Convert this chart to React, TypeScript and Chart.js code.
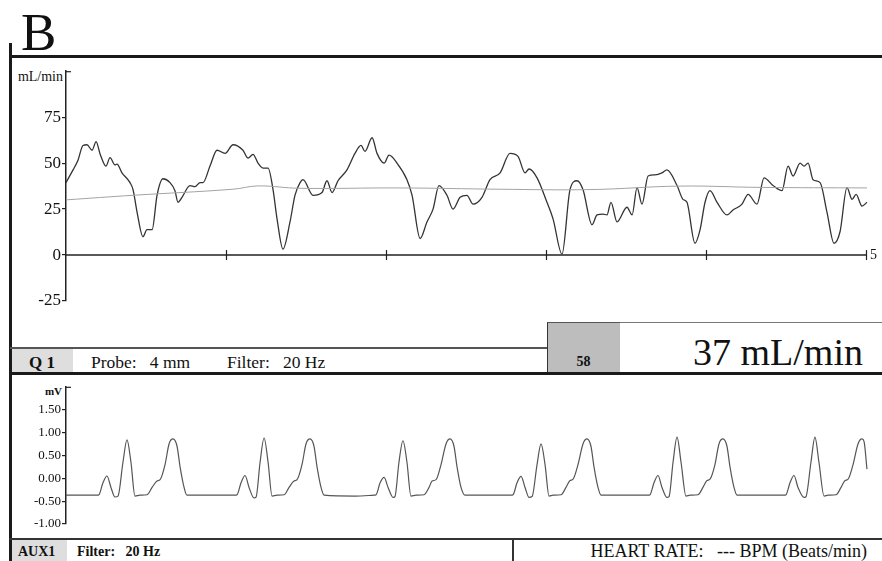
import React, { useEffect, useRef } from "react";
import { Chart, registerables } from "chart.js";
Chart.register(...registerables);

const FONT = "'Liberation Serif', 'Times New Roman', serif";

// ---- Flow trace (mL/min) over time (s) ----
const flowTime = [
  0, 0.044, 0.075, 0.106, 0.131, 0.163, 0.188, 0.213, 0.25, 0.275, 0.306, 0.319, 0.35, 0.4, 0.419, 0.444,
  0.481, 0.506, 0.538, 0.569, 0.606, 0.65, 0.681, 0.7, 0.725, 0.775, 0.806, 0.838, 0.856, 0.9, 0.944, 0.994,
  1.044, 1.106, 1.138, 1.169, 1.2, 1.231, 1.263, 1.294, 1.319, 1.356, 1.4, 1.431, 1.463, 1.481, 1.544, 1.6,
  1.631, 1.663, 1.7, 1.756, 1.806, 1.844, 1.869, 1.913, 1.944, 1.988, 2.019, 2.069, 2.131, 2.163, 2.213, 2.256,
  2.294, 2.331, 2.381, 2.419, 2.463, 2.506, 2.544, 2.6, 2.65, 2.713, 2.775, 2.825, 2.869, 2.894, 2.944, 3.006,
  3.044, 3.1, 3.15, 3.194, 3.231, 3.288, 3.319, 3.356, 3.381, 3.406, 3.444, 3.506, 3.538, 3.569, 3.6, 3.638,
  3.681, 3.725, 3.756, 3.819, 3.856, 3.881, 3.931, 3.963, 3.994, 4.025, 4.069, 4.131, 4.169, 4.225, 4.263, 4.319,
  4.363, 4.419, 4.475, 4.513, 4.544, 4.588, 4.613, 4.638, 4.669, 4.713, 4.756, 4.8, 4.838, 4.881, 4.913, 4.938,
  4.975, 5.006,
];
const flowValue = [
  39.4, 46.3, 51.6, 59.6, 60, 57, 61.7, 55, 48.4, 53, 49, 49.5, 44.7, 39.4, 35.6, 23.4,
  10, 13.8, 13.8, 32.5, 41.5, 39.4, 35, 28.7, 31.4, 37.8, 37.2, 39.4, 39.4, 48.4, 57, 55.3,
  60, 57, 52.7, 54.8, 50, 47.3, 47.3, 35.6, 19.7, 3.2, 18, 32.5, 39.4, 41, 32.5, 34,
  40.4, 34, 40.4, 46.3, 55.3, 59.6, 56.4, 63.8, 55.3, 50, 54.3, 50, 41, 32.5, 9, 18,
  25, 37.8, 32.5, 25, 31.4, 32.5, 27.7, 31.4, 41, 44.7, 55.3, 53.7, 44.7, 46.8, 42, 28.7,
  19.7, 0.5, 35.6, 40.4, 35.6, 16.5, 21.8, 22.3, 21.8, 28.7, 18, 26, 21.8, 36.7, 27.7, 43,
  43.6, 44.7, 46.3, 37.8, 30.3, 28.7, 6.4, 13.8, 28.7, 35, 28.7, 21.8, 24.5, 27.7, 33, 27.7,
  42, 37.8, 35, 48.4, 43, 50, 48.4, 50, 41, 39.4, 23.4, 6.4, 12.8, 36.7, 30.3, 33,
  26.6, 28.7,
];

// ---- Mean flow (gray) ----
const meanTime = [0, 0.419, 1.044, 1.2, 1.463, 2.088, 2.713, 3.275, 3.838, 4.338, 5.006];
const meanValue = [30, 32.5, 35.8, 37.6, 36.3, 36.5, 35.8, 35.6, 37.5, 36.8, 36.5];

// ---- AUX1 (mV) ----
const ecgTime = [
  0, 0.194, 0.206, 0.231, 0.256, 0.281, 0.306, 0.325, 0.356, 0.381, 0.406, 0.431, 0.463, 0.506, 0.538, 0.569,
  0.588, 0.619, 0.644, 0.669, 0.694, 0.713, 0.738, 0.756,
  1.056, 1.069, 1.094, 1.119, 1.144, 1.175, 1.188, 1.213, 1.238, 1.263, 1.288, 1.319, 1.363, 1.394, 1.425, 1.444,
  1.475, 1.5, 1.525, 1.55, 1.569, 1.594, 1.613, 1.806,
  1.925, 1.938, 1.963, 1.988, 2.013, 2.044, 2.056, 2.081, 2.106, 2.131, 2.156, 2.188, 2.238, 2.269, 2.288, 2.313,
  2.344, 2.375, 2.4, 2.425, 2.444, 2.469, 2.494,
  2.781, 2.794, 2.819, 2.844, 2.869, 2.894, 2.913, 2.944, 2.969, 2.994, 3.019, 3.044, 3.094, 3.125, 3.15, 3.169,
  3.2, 3.231, 3.256, 3.281, 3.3, 3.325, 3.344,
  3.638, 3.65, 3.675, 3.7, 3.725, 3.756, 3.769, 3.794, 3.819, 3.844, 3.875, 3.9, 3.95, 3.981, 4.006, 4.025,
  4.056, 4.081, 4.106, 4.131, 4.15, 4.175, 4.194,
  4.488, 4.5, 4.525, 4.55, 4.575, 4.613, 4.625, 4.656, 4.681, 4.706, 4.738, 4.763, 4.813, 4.844, 4.869, 4.888,
  4.919, 4.95, 4.975, 4.988, 5.006,
];
const ecgValue = [
  -0.37, -0.37, -0.36, -0.1, 0.05, -0.2, -0.41, -0.39, 0.35, 0.84, 0.35, -0.39, -0.37, -0.36, -0.2, -0.06,
  -0.03, 0.3, 0.75, 0.86, 0.7, 0.25, -0.2, -0.37,
  -0.37, -0.36, -0.1, 0.06, -0.2, -0.43, -0.41, 0.35, 0.88, 0.35, -0.39, -0.37, -0.36, -0.2, -0.06, -0.03,
  0.3, 0.75, 0.86, 0.7, 0.25, -0.2, -0.37, -0.39,
  -0.37, -0.36, -0.1, 0.02, -0.2, -0.42, -0.4, 0.35, 0.82, 0.35, -0.39, -0.37, -0.36, -0.2, -0.06, -0.03,
  0.3, 0.75, 0.86, 0.7, 0.25, -0.2, -0.37,
  -0.37, -0.36, -0.1, 0.04, -0.2, -0.42, -0.4, 0.3, 0.75, 0.3, -0.39, -0.37, -0.36, -0.2, -0.05, -0.02,
  0.3, 0.75, 0.86, 0.7, 0.25, -0.2, -0.37,
  -0.37, -0.36, -0.1, 0.06, -0.2, -0.42, -0.4, 0.35, 0.9, 0.35, -0.39, -0.37, -0.36, -0.2, -0.05, -0.02,
  0.3, 0.75, 0.86, 0.7, 0.25, -0.2, -0.37,
  -0.37, -0.36, -0.1, 0.06, -0.2, -0.42, -0.4, 0.35, 0.9, 0.35, -0.39, -0.37, -0.36, -0.2, -0.05, -0.02,
  0.3, 0.75, 0.86, 0.8, 0.2,
];

// ---- Axes ----
const flowTicks = [-25, 0, 25, 50, 75, 100];
const ecgTicks = [-1, -0.5, 0, 0.5, 1, 1.5, 2];
const timeTicks = [1, 2, 3, 4, 5];
const timeEndLabel = "5";
const timeMax = 5;

const toPoints = (xs: number[], ys: number[]) => xs.map((x, i) => ({ x, y: ys[i] }));

const flowAxisPlugin = {
  id: "flowAxis",
  beforeDatasetsDraw(chart: any) {
    const { ctx, chartArea } = chart;
    const x = chart.scales.x;
    const y = chart.scales.y;
    const y0 = y.getPixelForValue(0);
    ctx.save();
    ctx.strokeStyle = "#222";
    ctx.lineWidth = 1.5;
    ctx.beginPath();
    ctx.moveTo(x.getPixelForValue(0), y0);
    ctx.lineTo(x.getPixelForValue(timeMax), y0);
    ctx.stroke();
    ctx.lineWidth = 1.2;
    for (const t of timeTicks) {
      const px = Math.round(x.getPixelForValue(t)) + 0.5;
      ctx.beginPath();
      ctx.moveTo(px, y0 - 5);
      ctx.lineTo(px, y0 + 5);
      ctx.stroke();
    }
    ctx.beginPath();
    ctx.moveTo(chartArea.left, chartArea.top + 0.5);
    ctx.lineTo(chartArea.left + 5, chartArea.top + 0.5);
    ctx.stroke();
    ctx.fillStyle = "#111";
    ctx.font = `14px ${FONT}`;
    ctx.textBaseline = "middle";
    ctx.textAlign = "left";
    ctx.fillText(timeEndLabel, x.getPixelForValue(timeMax) + 4, y0);
    ctx.restore();
  },
};

const capPlugin = {
  id: "capTop",
  afterDraw(chart: any) {
    const { ctx, chartArea } = chart;
    ctx.save();
    ctx.strokeStyle = "#222";
    ctx.lineWidth = 1.2;
    ctx.beginPath();
    ctx.moveTo(chartArea.left, chartArea.top + 0.5);
    ctx.lineTo(chartArea.left + 5, chartArea.top + 0.5);
    ctx.stroke();
    ctx.restore();
  },
};

function yAxis(min: number, max: number, ticks: number[], fmt: (v: number) => string, size: number) {
  return {
    type: "linear",
    position: "left",
    min,
    max,
    afterFit: (s: any) => {
      s.width = 66;
    },
    afterBuildTicks: (s: any) => {
      s.ticks = ticks.map((v) => ({ value: v }));
    },
    ticks: {
      callback: (v: any) => (v === max ? "" : fmt(Number(v))),
      font: { family: FONT, size },
      color: "#111",
      padding: 1,
    },
    grid: {
      drawOnChartArea: false,
      drawTicks: true,
      tickLength: 4,
      lineWidth: 1.2,
      color: (c: any) => (c.tick && c.tick.value === max ? "rgba(0,0,0,0)" : "#222"),
    },
    border: { display: true, color: "#222", width: 1.5 },
  };
}

function Txt(props: any) {
  const { left, top, size, bold, children, width, align, color } = props;
  return (
    <div
      style={{
        position: "absolute",
        left,
        top,
        width,
        textAlign: align || "left",
        fontFamily: FONT,
        fontSize: size,
        fontWeight: bold ? "bold" : "normal",
        lineHeight: 1,
        whiteSpace: "pre",
        color: color || "#111",
      }}
    >
      {children}
    </div>
  );
}

function Box(props: any) {
  const { left, top, width, height, bg, style } = props;
  return <div style={{ position: "absolute", left, top, width, height, background: bg, ...style }} />;
}

export default function App() {
  const upperRef = useRef<HTMLCanvasElement>(null);
  const lowerRef = useRef<HTMLCanvasElement>(null);

  useEffect(() => {
    const upper = new Chart(upperRef.current as HTMLCanvasElement, {
      type: "line",
      data: {
        datasets: [
          {
            data: toPoints(meanTime, meanValue),
            borderColor: "#a3a3a3",
            borderWidth: 1,
            pointRadius: 0,
            tension: 0.4,
            clip: false,
          },
          {
            data: toPoints(flowTime, flowValue),
            borderColor: "#333",
            borderWidth: 1.3,
            pointRadius: 0,
            cubicInterpolationMode: "monotone",
            clip: false,
          },
        ],
      } as any,
      options: {
        responsive: false,
        maintainAspectRatio: false,
        animation: false,
        events: [],
        layout: { padding: { left: 0, right: 16, top: 6, bottom: 19 } },
        plugins: { legend: { display: false }, tooltip: { enabled: false } },
        scales: {
          x: { type: "linear", min: 0, max: timeMax, display: false },
          y: yAxis(-25, 100, flowTicks, (v) => String(v), 17),
        } as any,
      },
      plugins: [flowAxisPlugin],
    });

    const lower = new Chart(lowerRef.current as HTMLCanvasElement, {
      type: "line",
      data: {
        datasets: [
          {
            data: toPoints(ecgTime, ecgValue),
            borderColor: "#555",
            borderWidth: 1.2,
            pointRadius: 0,
            cubicInterpolationMode: "monotone",
            clip: false,
          },
        ],
      } as any,
      options: {
        responsive: false,
        maintainAspectRatio: false,
        animation: false,
        events: [],
        layout: { padding: { left: 0, right: 16, top: 6, bottom: 12 } },
        plugins: { legend: { display: false }, tooltip: { enabled: false } },
        scales: {
          x: { type: "linear", min: 0, max: timeMax, display: false },
          y: yAxis(-1, 2, ecgTicks, (v) => v.toFixed(2), 13),
        } as any,
      },
      plugins: [capPlugin],
    });

    return () => {
      upper.destroy();
      lower.destroy();
    };
  }, []);

  return (
    <div
      style={{
        position: "absolute",
        left: 0,
        top: 0,
        width: 882,
        height: 561,
        background: "#fff",
        overflow: "hidden",
        fontFamily: FONT,
      }}
    >
      {/* frame lines */}
      <Box left={9} top={43} width={3} height={518} bg="#1a1a1a" />
      <Box left={9} top={55} width={873} height={3} bg="#1a1a1a" />

      {/* info bar */}
      <Box left={12} top={349} width={61} height={24} bg="#dedede" />
      <Box left={10} top={347} width={537} height={2} bg="#555" />
      <Box left={547} top={322} width={73} height={51} bg="#bdbdbd" style={{ borderLeft: "1.5px solid #333", borderTop: "1px solid #555", boxSizing: "border-box" }} />
      <Box left={620} top={322} width={262} height={1} bg="#777" />
      <Box left={9} top={372} width={873} height={3} bg="#1a1a1a" />

      {/* bottom bar */}
      <Box left={12} top={540} width={55} height={21} bg="#dedede" />
      <Box left={9} top={538} width={873} height={2} bg="#333" />
      <Box left={512} top={539} width={1.5} height={22} bg="#333" />

      <Txt left={21} top={6} size={53}>B</Txt>
      <Txt left={0} top={70} size={14} width={63} align="right">mL/min</Txt>
      <Txt left={0} top={386} size={11} width={62} align="right" bold>mV</Txt>

      <Txt left={29} top={354} size={17} bold>Q 1</Txt>
      <Txt left={91} top={354} size={17.5}>{"Probe:   4 mm"}</Txt>
      <Txt left={227} top={354} size={17.5}>{"Filter:   20 Hz"}</Txt>
      <Txt left={547} top={355} size={14} width={73} align="center" bold>58</Txt>
      <Txt left={693} top={333} size={38}>37 mL/min</Txt>

      <Txt left={18} top={545} size={14} bold>AUX1</Txt>
      <Txt left={77} top={545} size={14} bold>{"Filter:   20 Hz"}</Txt>
      <Txt left={480} top={542} size={18} width={387} align="right">{"HEART RATE:   --- BPM (Beats/min)"}</Txt>

      <canvas
        ref={upperRef}
        width={882}
        height={260}
        style={{ position: "absolute", left: 0, top: 60, width: 882, height: 260 }}
      />
      <canvas
        ref={lowerRef}
        width={882}
        height={158}
        style={{ position: "absolute", left: 0, top: 378, width: 882, height: 158 }}
      />
    </div>
  );
}
